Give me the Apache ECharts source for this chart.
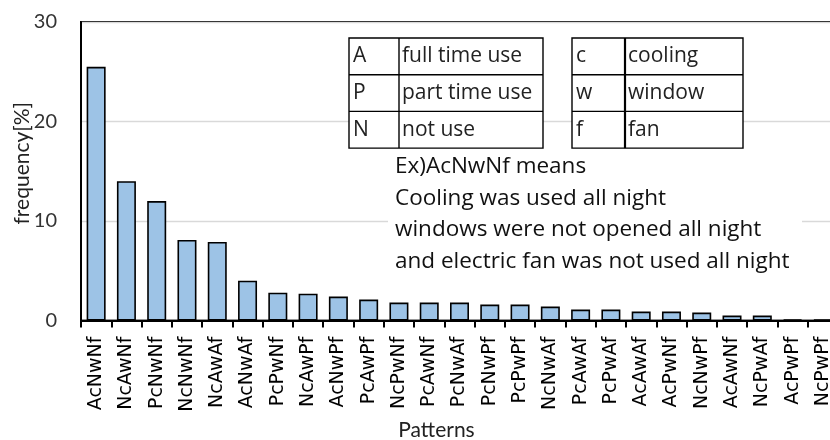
<!DOCTYPE html>
<html>
<head>
<meta charset="utf-8">
<script src="https://cdn.jsdelivr.net/npm/echarts@6/dist/echarts.min.js"></script>
<style>
  html, body { margin: 0; padding: 0; background: #fff; }
  #chart { width: 830px; height: 440px; }
</style>
</head>
<body>
<div id="chart"></div>
<script>
// Night-time usage patterns: A/P/N = full/part/not used; c/w/f = cooling/window/fan
const patterns = ['AcNwNf', 'NcAwNf', 'PcNwNf', 'NcNwNf', 'NcAwAf', 'AcNwAf', 'PcPwNf', 'NcAwPf',
  'AcNwPf', 'PcAwPf', 'NcPwNf', 'PcAwNf', 'PcNwAf', 'PcNwPf', 'PcPwPf', 'NcNwAf', 'PcAwAf',
  'PcPwAf', 'AcAwAf', 'AcPwNf', 'NcNwPf', 'AcAwNf', 'NcPwAf', 'AcPwPf', 'NcPwPf'];
const frequency = [25.5, 14.0, 12.0, 8.1, 7.9, 4.0, 2.8, 2.7, 2.4, 2.1, 1.8, 1.8, 1.8,
  1.6, 1.6, 1.4, 1.1, 1.1, 0.9, 0.9, 0.8, 0.5, 0.5, 0.1, 0.1];
const yTicks = [0, 10, 20, 30];

// Legend tables
const levelKeys = ['A', 'P', 'N'];
const levelNames = ['full time use', 'part time use', 'not use'];
const deviceKeys = ['c', 'w', 'f'];
const deviceNames = ['cooling', 'window', 'fan'];
const noteLines = [
  'Ex)AcNwNf means',
  'Cooling was used all night',
  'windows were not opened all night',
  'and electric fan was not used all night'
];

const chart = echarts.init(document.getElementById('chart'), null, { renderer: 'canvas' });

const tableFont = '21px "Open Sans"';
function table(x, y, colW, totalW, rowH, keys, names, divW) {
  const els = [];
  els.push({ type: 'rect', shape: { x: x, y: y, width: totalW, height: rowH * 3 },
    style: { fill: '#fff', stroke: '#000', lineWidth: 1.4 }, z: 100 });
  for (let i = 1; i < 3; i++) {
    els.push({ type: 'line', shape: { x1: x, y1: y + rowH * i, x2: x + totalW, y2: y + rowH * i },
      style: { stroke: '#000', lineWidth: 1.4 }, z: 101 });
  }
  els.push({ type: 'line', shape: { x1: x + colW, y1: y, x2: x + colW, y2: y + rowH * 3 },
    style: { stroke: '#000', lineWidth: divW }, z: 101 });
  keys.forEach(function (k, i) {
    els.push({ type: 'text', x: x + 4, y: y + rowH * i + rowH / 2,
      style: { text: k, font: tableFont, fill: '#222', textVerticalAlign: 'middle' }, z: 102 });
    els.push({ type: 'text', x: x + colW + 3, y: y + rowH * i + rowH / 2,
      style: { text: names[i], font: tableFont, fill: '#222', textVerticalAlign: 'middle' }, z: 102 });
  });
  return els;
}

const graphics = []
  .concat(table(349, 38, 50, 194, 36.7, levelKeys, levelNames, 1.4))
  .concat(table(572, 38, 53, 171, 36.7, deviceKeys, deviceNames, 2.2));

// White note box with the explanation text
graphics.push({ type: 'rect', shape: { x: 388, y: 150, width: 414, height: 128 },
  style: { fill: '#fff' }, z: 99 });
noteLines.forEach(function (t, i) {
  graphics.push({ type: 'text', x: 395, y: 166.5 + i * 31.7,
    style: { text: t, font: '22.5px "Open Sans"', fill: '#111', textVerticalAlign: 'middle' }, z: 102 });
});

chart.setOption({
  animation: false,
  backgroundColor: '#fff',
  grid: {
    left: 81, top: 22, bottom: 119.5, width: 757,
    outerBoundsMode: 'none',
    containLabel: false,
    show: true, borderColor: '#000', borderWidth: 2, backgroundColor: 'transparent'
  },
  xAxis: {
    type: 'category',
    data: patterns,
    name: 'Patterns',
    nameLocation: 'middle',
    nameGap: 99,
    nameMoveOverlap: false,
    nameTextStyle: { fontFamily: 'Lato', fontSize: 21, color: '#222', padding: [0, 46, 0, 0] },
    axisLine: { lineStyle: { color: '#000', width: 2 } },
    axisTick: { show: true, length: 7, interval: 0, lineStyle: { color: '#000', width: 2 } },
    axisLabel: { interval: 0, rotate: 90, margin: 16, fontFamily: 'DejaVu Sans', fontSize: 19, color: '#000' },
    splitLine: { show: false }
  },
  yAxis: {
    type: 'value',
    min: yTicks[0],
    max: yTicks[yTicks.length - 1],
    interval: 10,
    name: 'frequency[%]',
    nameLocation: 'middle',
    nameRotate: 90,
    nameGap: 48,
    nameMoveOverlap: false,
    nameTextStyle: { fontFamily: 'Lato', fontSize: 21, color: '#222', padding: [0, 0, 0, 16] },
    axisLine: { show: true, lineStyle: { color: '#000', width: 2 } },
    axisTick: { show: false },
    axisLabel: { margin: 24, fontFamily: 'Lato', fontSize: 20, color: '#333' },
    splitLine: { show: true, lineStyle: { color: '#d9d9d9', width: 1.4 } }
  },
  series: [{
    type: 'bar',
    data: frequency,
    barWidth: 19,
    itemStyle: { color: '#9DC3E6', borderColor: '#000', borderWidth: 1.6 }
  }],
  graphic: graphics
});
</script>
</body>
</html>
